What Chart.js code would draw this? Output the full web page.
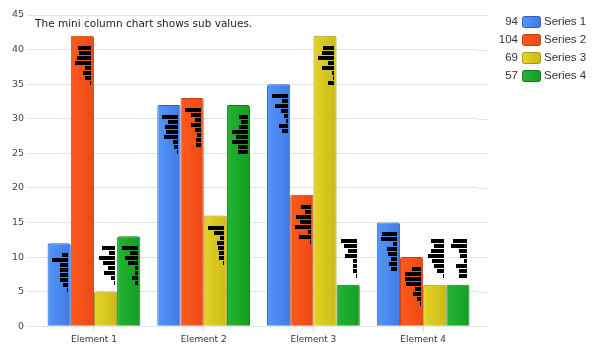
<!DOCTYPE html>
<html>
<head>
<meta charset="utf-8">
<script src="https://cdn.jsdelivr.net/npm/chart.js@4/dist/chart.umd.min.js"></script>
<style>
html,body{margin:0;padding:0;background:#fff;}
canvas{display:block;}
</style>
</head>
<body>
<canvas id="c" width="592" height="351"></canvas>
<script>
// ---- data ----
const categories = ["Element 1", "Element 2", "Element 3", "Element 4"];
const seriesNames = ["Series 1", "Series 2", "Series 3", "Series 4"];
const series1 = [12, 32, 35, 15];
const series2 = [42, 33, 19, 10];
const series3 = [5, 16, 42, 6];
const series4 = [13, 32, 6, 6];
const yTicks = [0, 5, 10, 15, 20, 25, 30, 35, 40, 45];
const titleText = "The mini column chart shows sub values.";

// sub values shown by the mini column charts (one list per element)
const series1Sub = [[6,16,8,8,8,8,5,1],[16,10,13,12,14,5,4,1],[16,6,13,7,4,2,9,6],[15,16,4,10,9,6,8,6]];
const series2Sub = [[13,12,14,16,6,8,6,1],[16,10,6,10,6,4,5,5],[10,6,15,11,16,3,12,1],[9,16,16,15,6,8,4,1]];
const series3Sub = [[13,6,16,12,7,11,4,1],[16,10,4,7,6,5,5,1],[11,12,16,6,12,2,1,6],[13,10,13,16,12,10,7,1]];
const series4Sub = [[16,8,13,10,3,3,6,3],[9,7,9,16,12,16,10,10],[16,13,9,12,4,4,4,1],[14,16,8,7,3,11,8,8]];

// ---- styles ----
const fillLight = ["#5596fa", "#ff5a22", "#e4d428", "#22b532"];
const fillDark  = ["#3e7ae4", "#ea4a12", "#ccba16", "#169d24"];
const borderCol = ["#2d5fbf", "#c23b0c", "#a8990e", "#0f7a1b"];
const allSeries = [series1, series2, series3, series4];
const allSubs = [series1Sub, series2Sub, series3Sub, series4Sub];

const AX_FONT = "DejaVu Sans";

function hGrad(ctx, x0, x1, i) {
  const g = ctx.createLinearGradient(x0, 0, x1, 0);
  g.addColorStop(0, fillLight[i]);
  g.addColorStop(1, fillDark[i]);
  return g;
}

const gradientPlugin = {
  id: "grad",
  beforeDatasetsDraw(chart) {
    const ctx = chart.ctx;
    chart.data.datasets.forEach((ds, d) => {
      chart.getDatasetMeta(d).data.forEach(el => {
        el.options.backgroundColor = hGrad(ctx, el.x - el.width / 2, el.x + el.width / 2, d);
      });
    });
    // extend horizontal grid lines slightly past the plot area
    const y = chart.scales.y, ca = chart.chartArea;
    ctx.save();
    ctx.strokeStyle = "#e3e3e3";
    ctx.lineWidth = 1;
    y.ticks.forEach(t => {
      const py = Math.round(y.getPixelForValue(t.value)) + 0.5;
      ctx.beginPath();
      ctx.moveTo(ca.right, py);
      ctx.lineTo(ca.right + 10, py);
      ctx.stroke();
    });
    ctx.restore();
  }
};

const miniPlugin = {
  id: "mini",
  afterDatasetsDraw(chart) {
    const ctx = chart.ctx;
    ctx.save();
    ctx.fillStyle = "#000";
    chart.data.datasets.forEach((ds, d) => {
      chart.getDatasetMeta(d).data.forEach((el, i) => {
        const subs = allSubs[d][i];
        const mx = Math.max(...subs);
        const right = Math.round(el.x + el.width / 2 - 2.5);
        const inside = (el.base - el.y) >= 55;
        const top = Math.round(inside ? el.y + 10 : el.y - 46);
        const maxW = el.width * 0.68;
        subs.forEach((v, r) => {
          const w = Math.max(1, Math.round(v / mx * maxW));
          ctx.fillRect(right - w, top + r * 5, w, 4);
        });
      });
    });
    ctx.restore();
  }
};

const decoPlugin = {
  id: "deco",
  afterDraw(chart) {
    const ctx = chart.ctx, ca = chart.chartArea;
    ctx.save();
    // title inside plot
    ctx.font = "10.5px '" + AX_FONT + "'";
    ctx.fillStyle = "#222";
    ctx.textBaseline = "middle";
    ctx.textAlign = "left";
    ctx.fillText(titleText, ca.left - 4, 24);
    // legend
    ctx.font = "11.5px 'Liberation Sans'";
    seriesNames.forEach((name, i) => {
      const cy = 22 + i * 18;
      const total = allSeries[i].reduce((a, b) => a + b, 0);
      ctx.fillStyle = "#333";
      ctx.textAlign = "right";
      ctx.fillText(String(total), 518, cy);
      const bx = 522.5, by = cy - 5.5, bw = 18, bh = 11;
      ctx.beginPath();
      ctx.roundRect(bx, by, bw, bh, 2);
      ctx.fillStyle = hGrad(ctx, bx, bx + bw, i);
      ctx.fill();
      ctx.strokeStyle = borderCol[i];
      ctx.lineWidth = 1;
      ctx.stroke();
      ctx.fillStyle = "#333";
      ctx.textAlign = "left";
      ctx.fillText(name, 544, cy);
    });
    ctx.restore();
  }
};

const datasets = allSeries.map((data, i) => ({
  label: seriesNames[i],
  data: data,
  backgroundColor: (c) => fillLight[c.datasetIndex],
  borderColor: borderCol[i],
  borderWidth: 1,
  borderRadius: 2,
  borderSkipped: "bottom",
  categoryPercentage: 0.845,
  barPercentage: 1.0
}));

new Chart(document.getElementById("c"), {
  type: "bar",
  data: { labels: categories, datasets: datasets },
  options: {
    responsive: false,
    animation: false,
    devicePixelRatio: 1,
    layout: { padding: { left: 9, right: 114, top: 15, bottom: 3 } },
    plugins: { legend: { display: false }, tooltip: { enabled: false }, title: { display: false } },
    scales: {
      y: {
        min: 0, max: 45,
        afterBuildTicks: (s) => { s.ticks = yTicks.map(v => ({ value: v })); },
        ticks: { color: "#444", font: { family: AX_FONT, size: 9.5 }, padding: 3 },
        grid: { color: "#e3e3e3", tickLength: 12 },
        border: { display: false }
      },
      x: {
        ticks: { color: "#333", font: { family: AX_FONT, size: 9 }, padding: 3 },
        grid: { offset: false, drawOnChartArea: false, tickLength: 5, color: "#d8d8d8" },
        border: { display: false }
      }
    }
  },
  plugins: [gradientPlugin, miniPlugin, decoPlugin]
});
</script>
</body>
</html>
